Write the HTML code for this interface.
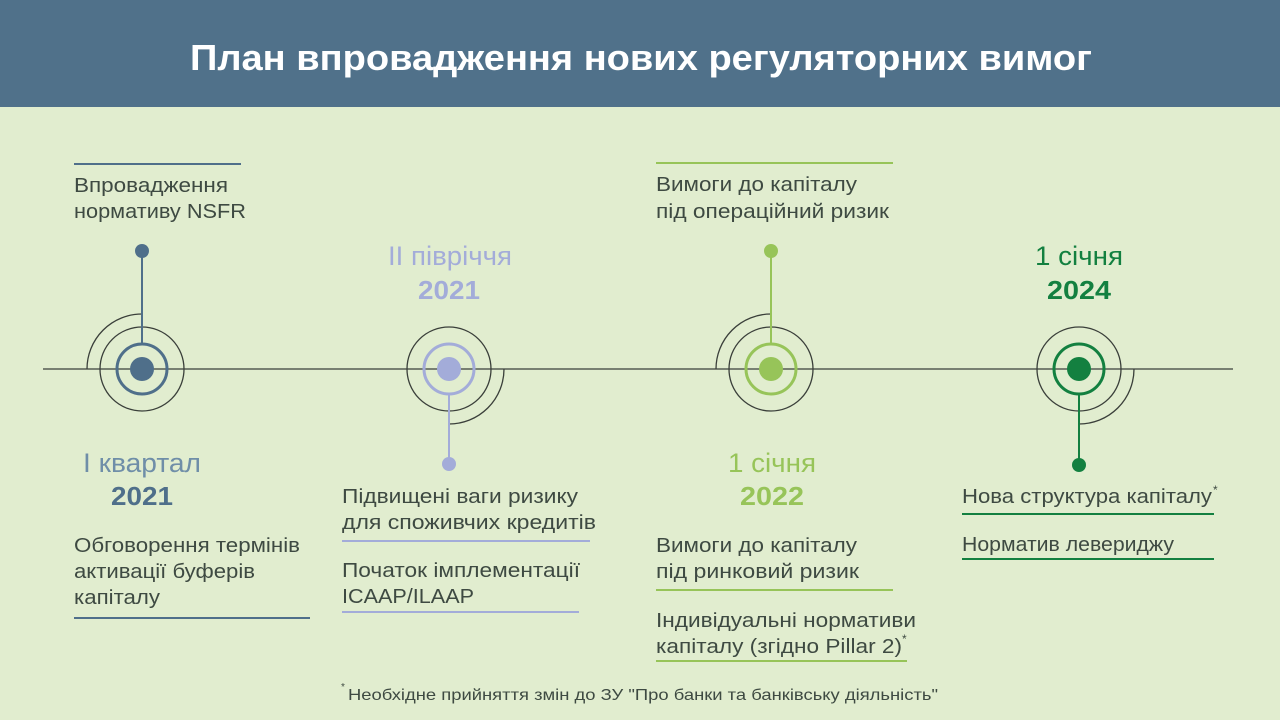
<!DOCTYPE html>
<html><head><meta charset="utf-8"><style>
html,body{margin:0;padding:0;background:#e1edcf;}
svg{display:block}
text{font-family:"Liberation Sans","DejaVu Sans",sans-serif;}
.t{font-size:20px;fill:#3e4a42;}
.h{font-size:27px;}
.b{font-weight:bold;font-size:26px;}
</style></head><body>
<svg width="1280" height="720" viewBox="0 0 1280 720" xmlns="http://www.w3.org/2000/svg">
<rect x="0" y="0" width="1280" height="720" fill="#e1edcf"/>
<rect x="0" y="0" width="1280" height="107" fill="#50718a"/>
<text x="190" y="70" font-size="36" font-weight="bold" fill="#fff" textLength="902" lengthAdjust="spacingAndGlyphs">План впровадження нових регуляторних вимог</text>

<line x1="43" y1="369" x2="1233" y2="369" stroke="#3a3f3a" stroke-width="1.3"/>

<!-- Node 1 -->
<g fill="none" stroke="#3a3f3a" stroke-width="1.3">
<circle cx="142" cy="369" r="42"/>
<path d="M87 369 A55 55 0 0 1 142 314"/>
<circle cx="449" cy="369" r="42"/>
<path d="M504 369 A55 55 0 0 1 449 424"/>
<circle cx="771" cy="369" r="42"/>
<path d="M716 369 A55 55 0 0 1 771 314"/>
<circle cx="1079" cy="369" r="42"/>
<path d="M1134 369 A55 55 0 0 1 1079 424"/>
</g>

<g stroke="#4f6f8a" fill="none" stroke-width="3"><circle cx="142" cy="369" r="25"/><line x1="142" y1="250" x2="142" y2="344" stroke-width="2"/></g>
<circle cx="142" cy="369" r="12" fill="#4f6f8a"/><circle cx="142" cy="251" r="7" fill="#4f6f8a"/>

<g stroke="#a3acd9" fill="none" stroke-width="3"><circle cx="449" cy="369" r="25"/><line x1="449" y1="394" x2="449" y2="464" stroke-width="2"/></g>
<circle cx="449" cy="369" r="12" fill="#a3acd9"/><circle cx="449" cy="464" r="7" fill="#a3acd9"/>

<g stroke="#97c459" fill="none" stroke-width="3"><circle cx="771" cy="369" r="25"/><line x1="771" y1="251" x2="771" y2="344" stroke-width="2"/></g>
<circle cx="771" cy="369" r="12" fill="#97c459"/><circle cx="771" cy="251" r="7" fill="#97c459"/>

<g stroke="#138040" fill="none" stroke-width="3"><circle cx="1079" cy="369" r="25"/><line x1="1079" y1="394" x2="1079" y2="465" stroke-width="2"/></g>
<circle cx="1079" cy="369" r="12" fill="#138040"/><circle cx="1079" cy="465" r="7" fill="#138040"/>

<!-- Node1 text -->
<line x1="74" y1="164" x2="241" y2="164" stroke="#4f6f8a" stroke-width="2"/>
<text class="t" x="74" y="192" textLength="154" lengthAdjust="spacingAndGlyphs">Впровадження</text>
<text class="t" x="74" y="218" textLength="172" lengthAdjust="spacingAndGlyphs">нормативу NSFR</text>
<text class="h" x="83" y="472" fill="#6f8ea8" textLength="118" lengthAdjust="spacingAndGlyphs">І квартал</text>
<text class="b" x="111" y="505" fill="#4f6f8a" textLength="62" lengthAdjust="spacingAndGlyphs">2021</text>
<text class="t" x="74" y="552" textLength="226" lengthAdjust="spacingAndGlyphs">Обговорення термінів</text>
<text class="t" x="74" y="578" textLength="181" lengthAdjust="spacingAndGlyphs">активації буферів</text>
<text class="t" x="74" y="604" textLength="86" lengthAdjust="spacingAndGlyphs">капіталу</text>
<line x1="74" y1="618" x2="310" y2="618" stroke="#4f6f8a" stroke-width="2"/>

<!-- Node2 text -->
<text class="h" x="388" y="265" fill="#a3acd9" textLength="124" lengthAdjust="spacingAndGlyphs">ІІ півріччя</text>
<text class="b" x="418" y="299" fill="#a3acd9" textLength="62" lengthAdjust="spacingAndGlyphs">2021</text>
<text class="t" x="342" y="503" textLength="236" lengthAdjust="spacingAndGlyphs">Підвищені ваги ризику</text>
<text class="t" x="342" y="529" textLength="254" lengthAdjust="spacingAndGlyphs">для споживчих кредитів</text>
<line x1="342" y1="541" x2="590" y2="541" stroke="#a3acd9" stroke-width="2"/>
<text class="t" x="342" y="577" textLength="238" lengthAdjust="spacingAndGlyphs">Початок імплементації</text>
<text class="t" x="342" y="603" textLength="132" lengthAdjust="spacingAndGlyphs">ICAAP/ILAAP</text>
<line x1="342" y1="612" x2="579" y2="612" stroke="#a3acd9" stroke-width="2"/>

<!-- Node3 text -->
<line x1="656" y1="163" x2="893" y2="163" stroke="#97c459" stroke-width="2"/>
<text class="t" x="656" y="191" textLength="201" lengthAdjust="spacingAndGlyphs">Вимоги до капіталу</text>
<text class="t" x="656" y="218" textLength="233" lengthAdjust="spacingAndGlyphs">під операційний ризик</text>
<text class="h" x="728" y="472" fill="#97c459" textLength="88" lengthAdjust="spacingAndGlyphs">1 січня</text>
<text class="b" x="740" y="505" fill="#97c459" textLength="64" lengthAdjust="spacingAndGlyphs">2022</text>
<text class="t" x="656" y="552" textLength="201" lengthAdjust="spacingAndGlyphs">Вимоги до капіталу</text>
<text class="t" x="656" y="578" textLength="203" lengthAdjust="spacingAndGlyphs">під ринковий ризик</text>
<line x1="656" y1="590" x2="893" y2="590" stroke="#97c459" stroke-width="2"/>
<text class="t" x="656" y="627" textLength="260" lengthAdjust="spacingAndGlyphs">Індивідуальні нормативи</text>
<text class="t" x="656" y="653" textLength="246" lengthAdjust="spacingAndGlyphs">капіталу (згідно Pillar 2)</text>
<text x="902" y="643" font-size="12" fill="#3e4a42">*</text>
<line x1="656" y1="661" x2="907" y2="661" stroke="#97c459" stroke-width="2"/>

<!-- Node4 text -->
<text class="h" x="1035" y="265" fill="#138040" textLength="88" lengthAdjust="spacingAndGlyphs">1 січня</text>
<text class="b" x="1047" y="299" fill="#138040" textLength="64" lengthAdjust="spacingAndGlyphs">2024</text>
<text class="t" x="962" y="503" textLength="250" lengthAdjust="spacingAndGlyphs">Нова структура капіталу</text>
<text x="1213" y="494" font-size="12" fill="#3e4a42">*</text>
<line x1="962" y1="514" x2="1214" y2="514" stroke="#138040" stroke-width="2"/>
<text class="t" x="962" y="551" textLength="212" lengthAdjust="spacingAndGlyphs">Норматив левериджу</text>
<line x1="962" y1="559" x2="1214" y2="559" stroke="#138040" stroke-width="2"/>

<!-- Footnote -->
<text x="341" y="690" font-size="10" fill="#3e4a42">*</text>
<text x="348" y="700" font-size="16" fill="#3e4a42" textLength="590" lengthAdjust="spacingAndGlyphs">Необхідне прийняття змін до ЗУ "Про банки та банківську діяльність"</text>
</svg>
</body></html>
